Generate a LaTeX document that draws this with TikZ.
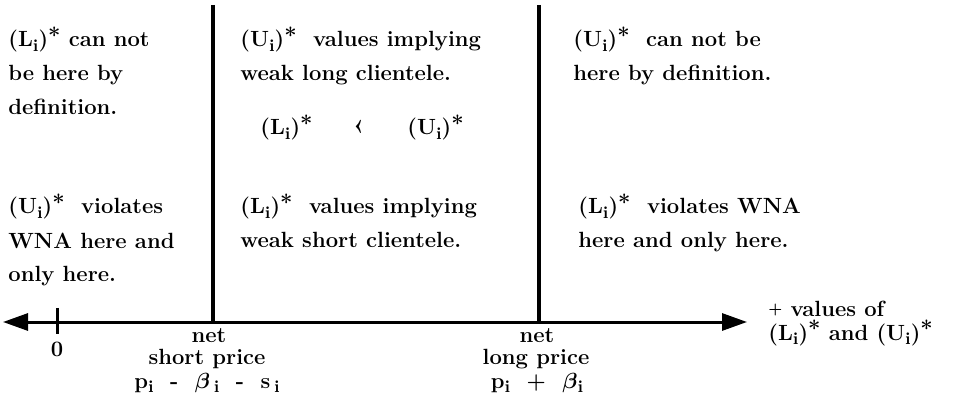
\documentclass[tikz,border=0pt]{standalone}
\usepackage{bm}
\usetikzlibrary{arrows.meta}
\newcommand\sbi[1]{\raisebox{-0.45ex}{\fontsize{8.5}{9}\selectfont #1}}
\newcommand\stx{\raisebox{0.35ex}{*}}
\newcommand\Lst{(L\sbi{i})\stx}
\newcommand\Ust{(U\sbi{i})\stx}
\tikzset{
  txt/.style={anchor=base west, inner sep=0pt, align=left, font=\fontsize{11}{17}\selectfont\bfseries},
  ctxt/.style={anchor=base, inner sep=0pt, align=center, font=\fontsize{11}{17}\selectfont\bfseries},
  thick line/.style={line width=1.6pt},
  axisline/.style={line width=1.5pt, {Triangle[length=12.5pt,width=8.5pt]}-{Triangle[length=12.5pt,width=8.5pt]}}
}
\begin{document}
\begin{tikzpicture}[x=0.5pt,y=-0.5pt]
\useasboundingbox (0,0) rectangle (962,405);
% coordinates
\coordinate (axL) at (3,322);
\coordinate (axR) at (747,322);
\coordinate (v1t) at (213,5);
\coordinate (v1b) at (213,322);
\coordinate (v2t) at (539,5);
\coordinate (v2b) at (539,322);
\coordinate (tkt) at (57,308);
\coordinate (tkb) at (57,334);
% lines
\draw[axisline] (axL) -- (axR);
\draw[thick line] (v1t) -- (v1b);
\draw[line width=2pt] (v2t) -- (v2b);
\draw[line width=1.5pt] (tkt) -- (tkb);
% top texts (anchor = baseline of last line)
\node[txt] (tl) at (8,115) {\Lst\ can not\\be here by\\definition.};
\node[txt] (tm) at (240,81) {\Ust\ \ values implying\\weak long clientele.};
\node[txt] (tr) at (573,81) {\Ust\ \ can not be\\here by definition.};
% relation
\node[txt] (rl) at (260,135) {\Lst};
\node[txt] (rlt) at (352,134) {{\fontsize{14}{14}\selectfont\guilsinglleft}};
\node[txt] (ru) at (407,135) {\Ust};
% bottom texts
\node[txt] (bl) at (8,282) {\Ust\ \ violates\\WNA here and\\only here.};
\node[txt] (bm) at (240,248) {\Lst\ \ values implying\\weak short clientele.};
\node[txt] (br) at (578,248) {\Lst\ \ violates WNA\\here and only here.};
% axis labels
\node[ctxt] (zero) at (57,357) {0};
\node[ctxt] (net1) at (209,343) {net};
\node[ctxt] (sp) at (207,364) {short price};
\node[ctxt] (sf) at (207,388) {p\sbi{i} \ - \ $\bm{\beta}$\,\sbi{i} \ - \ s\,\sbi{i}};
\node[ctxt] (net2) at (537,343) {net};
\node[ctxt] (lp) at (536,364) {long price};
\node[ctxt] (lf) at (537,388) {p\sbi{i} \ + \ $\bm{\beta}$\sbi{i}};
\node[txt] (val) at (768,316) {\raisebox{0.3ex}{\scriptsize+} values of};
\node[txt] (val2) at (768,340) {\Lst\ and \Ust};
\end{tikzpicture}
\end{document}
